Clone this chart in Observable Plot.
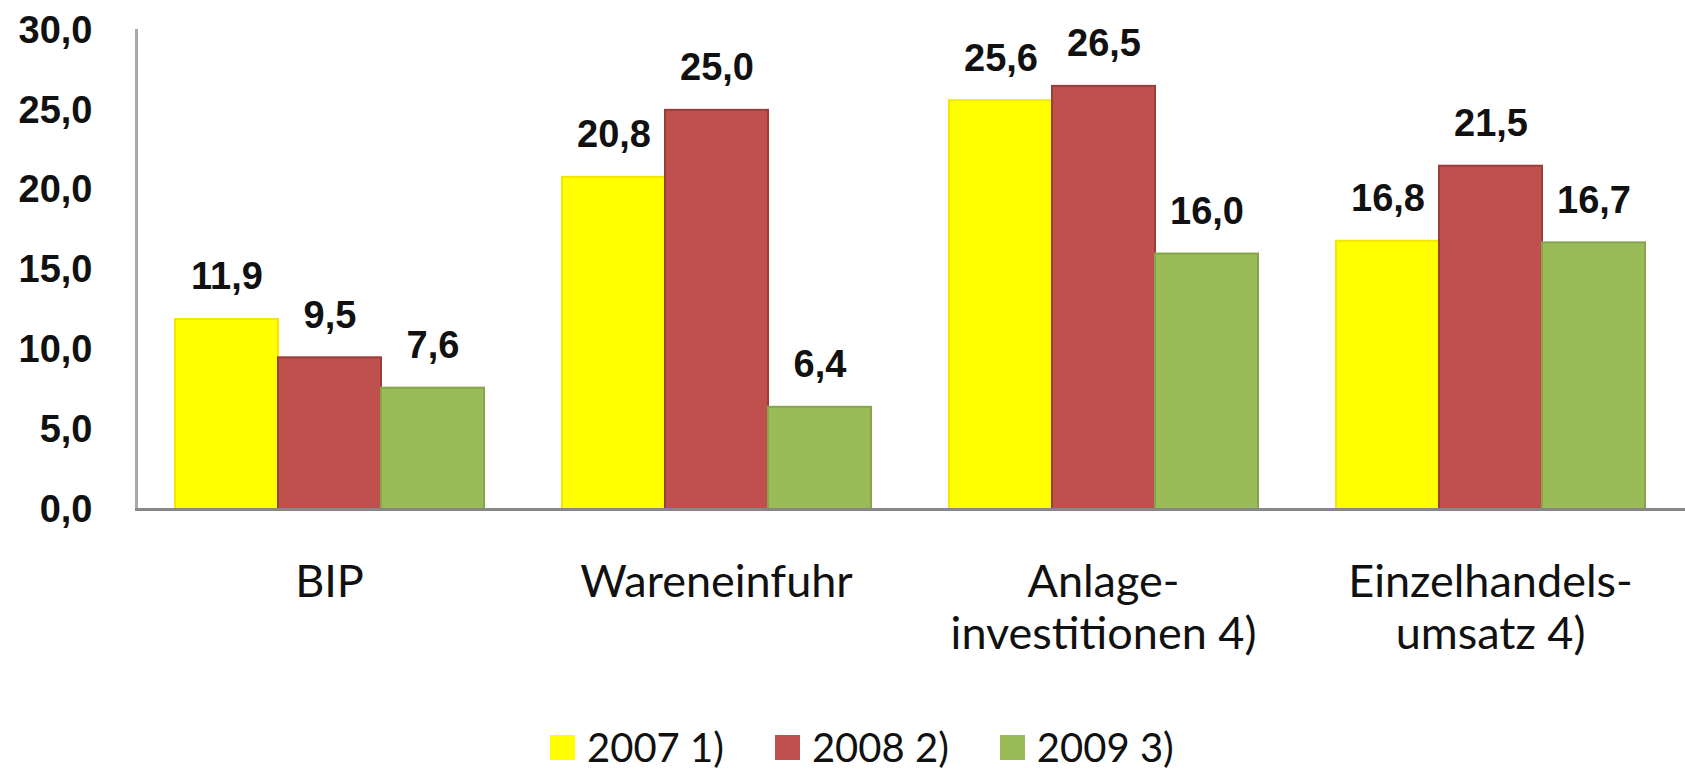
<!DOCTYPE html>
<html><head><meta charset="utf-8">
<script src="https://cdn.jsdelivr.net/npm/d3@7"></script>
<script src="https://cdn.jsdelivr.net/npm/@observablehq/plot@0.6"></script>
<style>
body{margin:0;background:#fff}
#chart svg{display:block}
#legend{margin-left:550px;height:44px;display:flex;align-items:center}
#legend .lg-swatches{font-family:Lato,"Liberation Sans",sans-serif !important;font-size:40px !important;color:#111 !important;min-height:44px !important;margin:0 !important}
#legend .lg-swatch{margin-right:51px !important}
#legend .lg-swatch > svg{margin-right:12px !important}
</style></head><body>
<div id="chart"></div>
<div id="legend"></div>
<script>
const categories = ["BIP", "Wareneinfuhr", "Anlage-\ninvestitionen 4)", "Einzelhandels-\numsatz 4)"];
const series = ["2007 1)", "2008 2)", "2009 3)"];
const values2007 = [11.9, 20.8, 25.6, 16.8];
const values2008 = [9.5, 25.0, 26.5, 21.5];
const values2009 = [7.6, 6.4, 16.0, 16.7];
const yTicks = [0, 5, 10, 15, 20, 25, 30];
const fillColors = ["#ffff00", "#c0504d", "#9bbb59"];
const strokeColors = ["#f2e600", "#9a3e3b", "#86a44c"];

const seriesValues = [values2007, values2008, values2009];
const rows = categories.flatMap((c, i) => series.map((s, j) => ({
  category: c, series: s, value: seriesValues[j][i], fill: fillColors[j], stroke: strokeColors[j]
})));
const fmt = v => v.toFixed(1).replace(".", ",");
const numFont = "'Liberation Sans', Arial, sans-serif";
const catFont = "Lato, 'Liberation Sans', sans-serif";

const plot = Plot.plot({
  width: 1685, height: 725,
  marginTop: 30, marginBottom: 216, marginLeft: 134, marginRight: 1,
  style: {background: "#fff", color: "#111"},
  fx: {domain: categories, paddingInner: 0.2, paddingOuter: 0.1, label: null},
  x: {domain: series, padding: 0, axis: null},
  y: {domain: [0, 30], label: null},
  marks: [
    Plot.frame({anchor: "left", facet: "super", insetLeft: -38, stroke: "#a8a8a8", strokeWidth: 3}),
    Plot.barY(rows, {fx: "category", x: "series", y: "value", fill: "fill", stroke: "stroke", strokeWidth: 2}),
    Plot.frame({anchor: "bottom", facet: "super", insetLeft: -38, insetRight: -40, stroke: "#878787", strokeWidth: 3}),
    Plot.text(rows, {fx: "category", x: "series", y: "value", text: d => fmt(d.value),
      lineAnchor: "bottom", dy: -30, fontSize: 38, fontWeight: "bold", fontFamily: numFont, fill: "#111"}),
    Plot.axisY({ticks: yTicks, tickFormat: fmt, tickSize: 0, tickPadding: 82, fontSize: 38,
      fontWeight: "bold", fontFamily: numFont, fill: "#111", label: null}),
    Plot.axisFx({anchor: "bottom", tickSize: 0, tickPadding: 50, fontSize: 45, lineHeight: 1.16,
      fontFamily: catFont, fill: "#111", label: null})
  ]
});
document.getElementById("chart").appendChild(plot);

const legend = Plot.legend({
  color: {type: "ordinal", domain: series, range: fillColors},
  swatchSize: 25, className: "lg"
});
document.getElementById("legend").appendChild(legend);
</script>
</body></html>
